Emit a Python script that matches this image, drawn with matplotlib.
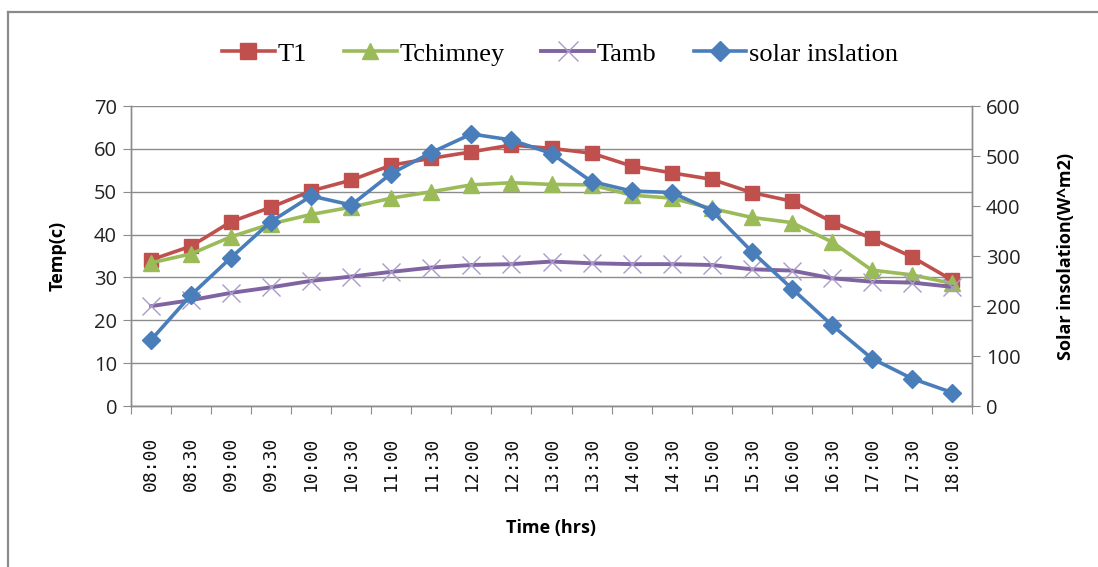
import numpy as np
import matplotlib.pyplot as plt
from matplotlib.lines import Line2D

# half-hourly readings, 08:00 - 18:00
times = ["08:00", "08:30", "09:00", "09:30", "10:00", "10:30", "11:00",
         "11:30", "12:00", "12:30", "13:00", "13:30", "14:00", "14:30",
         "15:00", "15:30", "16:00", "16:30", "17:00", "17:30", "18:00"]
t1 = [34.1, 37.3, 43.0, 46.4, 50.2, 52.7, 56.2, 57.8, 59.3, 60.9, 60.1,
      59.0, 56.0, 54.4, 52.9, 49.8, 47.8, 43.0, 39.1, 34.8, 29.4]
tchimney = [33.4, 35.5, 39.5, 42.5, 44.7, 46.4, 48.5, 50.0, 51.6, 52.1, 51.7,
            51.6, 49.2, 48.5, 46.1, 44.0, 42.8, 38.3, 31.7, 30.6, 28.6]
tamb = [23.3, 24.7, 26.4, 27.7, 29.2, 30.2, 31.3, 32.3, 32.9, 33.1, 33.7,
        33.3, 33.1, 33.1, 32.9, 31.9, 31.6, 29.8, 29.0, 28.8, 27.8]
solar = [132, 222, 297, 369, 420, 402, 465, 507, 544, 532, 505,
         449, 430, 427, 391, 309, 235, 162, 95, 55, 27]

RED = "#C0504D"
GREEN = "#9BBB59"
PURPLE = "#8064A2"
BLUE = "#4A7EBB"
GRID = "#8C8C8C"

fig = plt.figure(figsize=(10.98, 5.67), dpi=100)
ax = fig.add_axes([131 / 1098, 161 / 567, 841 / 1098, 300 / 567])
ax2 = ax.twinx()

x = np.arange(len(times))
ax.plot(x, t1, color=RED, lw=2.6, marker="s", ms=10, mec=RED, mfc=RED, zorder=3)
ax.plot(x, tchimney, color=GREEN, lw=2.6, marker="^", ms=11, mec=GREEN, mfc=GREEN, zorder=3)
ax.plot(x, tamb, color=PURPLE, lw=2.8, marker="x", ms=13, mew=1.0, mec="#A99BC9", zorder=3)
ax2.plot(x, solar, color=BLUE, lw=2.6, marker="D", ms=9, mec=BLUE, mfc=BLUE, zorder=3)

ax.set_xlim(-0.5, len(times) - 0.5)
ax.set_ylim(0, 70)
ax.set_yticks(np.arange(0, 71, 10))
ax2.set_ylim(0, 600)
ax2.set_yticks(np.arange(0, 601, 100))

# ticks sit between categories, labels at category centres
ax.set_xticks(np.arange(-0.5, len(times), 1.0))
ax.set_xticklabels([])
ax.set_xticks(x, minor=True)
ax.set_xticklabels(times, minor=True, rotation=90, fontsize=13,
                   family="DejaVu Sans Mono", color="#111111")
ax.tick_params(axis="x", which="minor", length=0, pad=22)
ax.tick_params(axis="x", which="major", length=6, color=GRID, direction="out")

ax.grid(axis="y", color=GRID, lw=1.0)
ax.set_axisbelow(True)
for a in (ax, ax2):
    a.spines["top"].set_visible(False)
    for s in ("left", "right", "bottom"):
        a.spines[s].set_color(GRID)
        a.spines[s].set_linewidth(1.0)
ax.tick_params(axis="y", length=6, color=GRID, labelsize=14.5, labelcolor="#222222", pad=4)
ax2.tick_params(axis="y", length=6, color=GRID, labelsize=14.5, labelcolor="#222222", pad=4)
for lab in ax.get_yticklabels() + ax2.get_yticklabels():
    lab.set_family("Open Sans")

ax.set_ylabel("Temp(c)", fontsize=13, fontweight="bold", family="Open Sans", labelpad=20)
ax2.set_ylabel("Solar insolation(W^m2)", fontsize=13, fontweight="bold",
               family="Open Sans", labelpad=26)
ax.set_xlabel("Time (hrs)", fontsize=13, fontweight="bold", family="Open Sans", labelpad=20)

handles = [
    Line2D([], [], color=RED, lw=2.6, marker="s", ms=11),
    Line2D([], [], color=GREEN, lw=2.6, marker="^", ms=12),
    Line2D([], [], color=PURPLE, lw=2.8, marker="x", ms=14, mew=1.0, mec="#A99BC9"),
    Line2D([], [], color=BLUE, lw=2.6, marker="D", ms=10),
]
fig.legend(handles, ["T1", "Tchimney", "Tamb", "solar inslation"],
           loc="center", bbox_to_anchor=(0.510, 0.905), ncol=4, frameon=False,
           prop={"family": "Liberation Serif", "size": 19},
           handlelength=2.0, handletextpad=0.1, columnspacing=1.4)

# outer chart border (top and left edges)
fig.add_artist(Line2D([8 / 1098, 8 / 1098], [0, 1 - 12 / 567], color="#8A8A8A", lw=1.6,
                      transform=fig.transFigure))
fig.add_artist(Line2D([8 / 1098, 1], [1 - 12 / 567, 1 - 12 / 567], color="#8A8A8A", lw=1.6,
                      transform=fig.transFigure))

fig.savefig("out.png", dpi=100)
